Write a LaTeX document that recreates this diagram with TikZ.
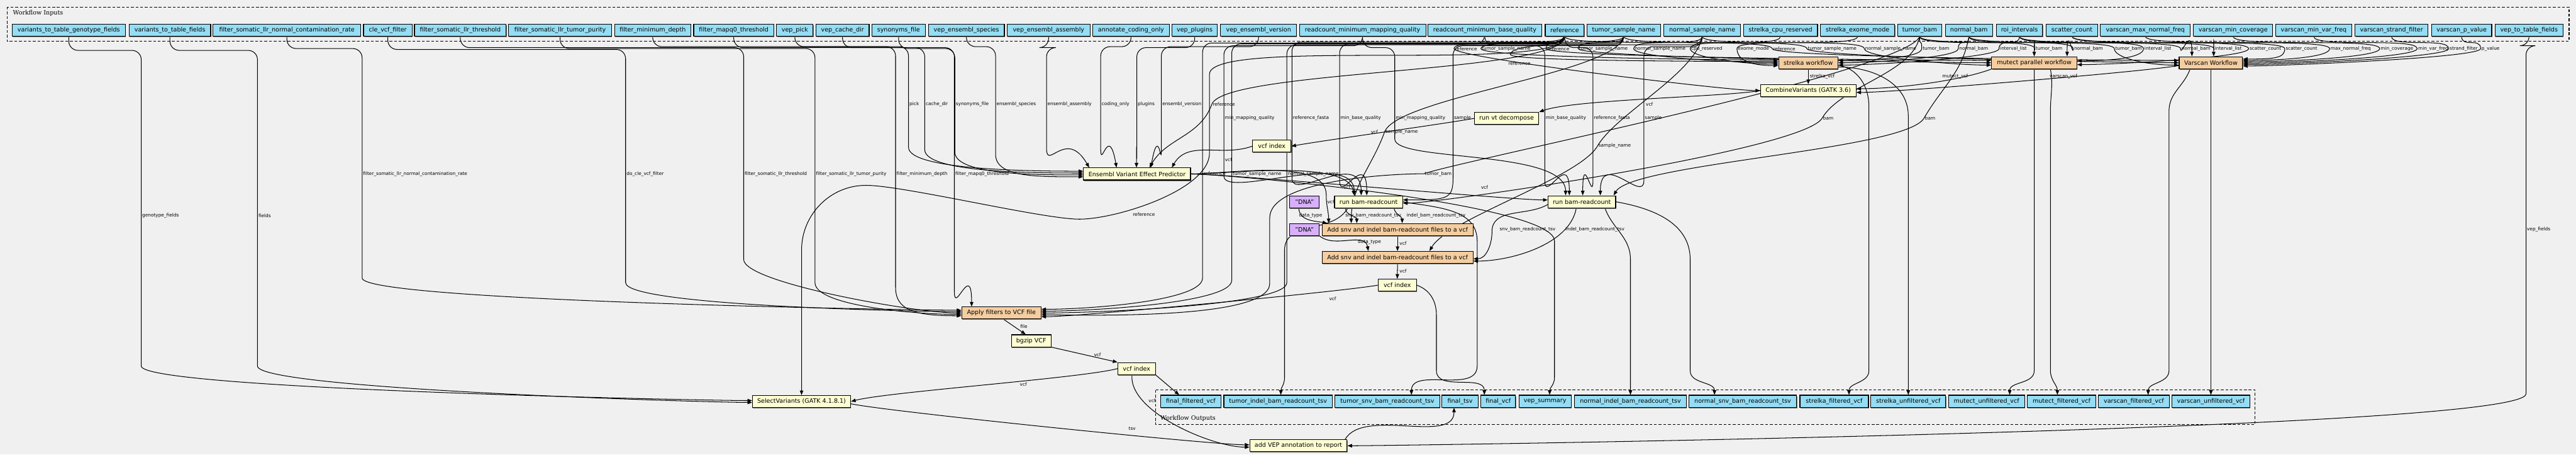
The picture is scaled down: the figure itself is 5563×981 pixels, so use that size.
\documentclass[tikz,border=0pt]{standalone}
\usepackage{fontspec}
\setmainfont{DejaVu Sans}
\newfontfamily\serifx{DejaVu Serif}
\usetikzlibrary{arrows.meta,shadows,calc}
\definecolor{cBg}{HTML}{F0F0F0}
\definecolor{cBlue}{HTML}{94DDF4}
\definecolor{cYel}{HTML}{FDFDD3}
\definecolor{cOra}{HTML}{F4CDA0}
\definecolor{cPur}{HTML}{D7B0F9}
\newcommand{\bxfont}{\fontsize{2.6}{3}\selectfont}
\newcommand{\lbfont}{\fontsize{2}{2.4}\selectfont}
\newcommand{\clfont}{\serifx\fontsize{2.6}{3}\selectfont}
\newcommand{\bx}[6]{\node[#1, minimum width={(#4-#3)*0.2}] (#2) at ({(#3+#4)/2},-#5) {#6};}
\newcommand{\te}[5]{\draw[edg] (#1.south) to[out=-90,in=90,distance=5pt] (#2,-105) node[lbl]{#3} to[out=-90,in=#5,out distance=4pt,in distance=14pt] (#4);}
\newcommand{\ve}[8]{\draw[edg] (#1.south) [rounded corners=4pt] -- ++(0,-#3) -| (#2,-#8) [sharp corners] node[lbl]{#7} -- (#2,-#4) to[out=-90,in=#6,out distance=10pt,in distance=20pt] (#5);}
\pgfdeclarelayer{back}
\pgfdeclarelayer{edges}
\pgfsetlayers{back,edges,main}
\tikzset{
  box/.style={draw, line width=0.3pt, minimum height=5.2pt, inner sep=0.4pt, font=\bxfont,
    general shadow={fill=black!55, shadow xshift=0.2pt, shadow yshift=-0.4pt}},
  inp/.style={box, fill=cBlue},
  stp/.style={box, fill=cYel},
  sub/.style={box, fill=cOra},
  cst/.style={box, fill=cPur},
  edg/.style={draw, line width=0.28pt, max distance=16pt, -{Triangle[length=2pt,width=1.5pt]}},
  lbl/.style={font=\lbfont, inner sep=0.3pt, anchor=west},
  clus/.style={draw, line width=0.28pt, dash pattern=on 1.2pt off 0.8pt},
}
\begin{document}
\begin{tikzpicture}[x=0.2pt,y=0.2pt]
\begin{pgfonlayer}{back}
\fill[cBg] (0,0) rectangle (5563,-981);
\draw[clus] (15,-15) rectangle (5548,-89);
\node[font=\clfont, anchor=west, inner sep=0pt] (inlab) at (27,-28) {Workflow Inputs};
\draw[clus] (2496,-842) rectangle (4870,-916);
\node[font=\clfont, anchor=west, inner sep=0pt] (outlab) at (2505,-903) {Workflow Outputs};
\end{pgfonlayer}
\useasboundingbox (0,0) rectangle (5563,-981);

% inputs
\bx{inp}{vtgf}{26}{271}{65}{variants\_to\_table\_genotype\_fields}
\bx{inp}{vtf}{279}{455}{65}{variants\_to\_table\_fields}
\bx{inp}{fcr}{460}{779}{65}{filter\_somatic\_llr\_normal\_contamination\_rate}
\bx{inp}{cle}{785}{890}{65}{cle\_vcf\_filter}
\bx{inp}{llrt}{895}{1093}{65}{filter\_somatic\_llr\_threshold}
\bx{inp}{llrp}{1098}{1321}{65}{filter\_somatic\_llr\_tumor\_purity}
\bx{inp}{fmd}{1327}{1492}{65}{filter\_minimum\_depth}
\bx{inp}{mapq}{1498}{1671}{65}{filter\_mapq0\_threshold}
\bx{inp}{pick}{1677}{1756}{65}{vep\_pick}
\bx{inp}{cache}{1762}{1877}{65}{vep\_cache\_dir}
\bx{inp}{syn}{1883}{1998}{65}{synonyms\_file}
\bx{inp}{spec}{2005}{2169}{65}{vep\_ensembl\_species}
\bx{inp}{asm}{2175}{2354}{65}{vep\_ensembl\_assembly}
\bx{inp}{coding}{2360}{2525}{65}{annotate\_coding\_only}
\bx{inp}{plug}{2531}{2629}{65}{vep\_plugins}
\bx{inp}{ver}{2636}{2800}{65}{vep\_ensembl\_version}
\bx{inp}{mmq}{2806}{3079}{65}{readcount\_minimum\_mapping\_quality}
\bx{inp}{mbq}{3084}{3329}{65}{readcount\_minimum\_base\_quality}
\bx{inp}{ref}{3337}{3421}{65}{reference}
\bx{inp}{tsn}{3427}{3586}{65}{tumor\_sample\_name}
\bx{inp}{nsn}{3593}{3759}{65}{normal\_sample\_name}
\bx{inp}{cpu}{3765}{3925}{65}{strelka\_cpu\_reserved}
\bx{inp}{exome}{3931}{4092}{65}{strelka\_exome\_mode}
\bx{inp}{tbam}{4098}{4193}{65}{tumor\_bam}
\bx{inp}{nbam}{4201}{4303}{65}{normal\_bam}
\bx{inp}{roi}{4311}{4411}{65}{roi\_intervals}
\bx{inp}{scat}{4419}{4530}{65}{scatter\_count}
\bx{inp}{vmnf}{4536}{4730}{65}{varscan\_max\_normal\_freq}
\bx{inp}{vmc}{4737}{4908}{65}{varscan\_min\_coverage}
\bx{inp}{vmvf}{4914}{5079}{65}{varscan\_min\_var\_freq}
\bx{inp}{vsf}{5086}{5243}{65}{varscan\_strand\_filter}
\bx{inp}{vpv}{5251}{5381}{65}{varscan\_p\_value}
\bx{inp}{vtt}{5388}{5535}{65}{vep\_to\_table\_fields}

% outputs
\bx{inp}{ffv}{2506}{2637}{866}{final\_filtered\_vcf}
\bx{inp}{tibt}{2643}{2877}{866}{tumor\_indel\_bam\_readcount\_tsv}
\bx{inp}{tsbt}{2883}{3109}{866}{tumor\_snv\_bam\_readcount\_tsv}
\bx{inp}{ftsv}{3114}{3192}{866}{final\_tsv}
\bx{inp}{fvcf}{3198}{3273}{866}{final\_vcf}
\bx{inp}{vsum}{3280}{3393}{866}{vep\_summary}
\bx{inp}{nibt}{3400}{3642}{866}{normal\_indel\_bam\_readcount\_tsv}
\bx{inp}{nsbt}{3647}{3880}{866}{normal\_snv\_bam\_readcount\_tsv}
\bx{inp}{sfv}{3887}{4035}{866}{strelka\_filtered\_vcf}
\bx{inp}{suv}{4040}{4202}{866}{strelka\_unfiltered\_vcf}
\bx{inp}{muv}{4208}{4372}{866}{mutect\_unfiltered\_vcf}
\bx{inp}{mfv}{4378}{4526}{866}{mutect\_filtered\_vcf}
\bx{inp}{vfv}{4531}{4685}{866}{varscan\_filtered\_vcf}
\bx{inp}{vuv}{4690}{4859}{866}{varscan\_unfiltered\_vcf}

% steps
\bx{sub}{strelka}{3841}{3969}{135.5}{strelka workflow}
\bx{sub}{mutect}{4301}{4485}{135.5}{mutect parallel workflow}
\bx{sub}{varscan}{4706}{4843}{135.5}{Varscan Workflow}
\bx{stp}{combine}{3802}{4008}{195.5}{CombineVariants (GATK 3.6)}
\bx{stp}{decomp}{3184}{3323}{255.5}{run vt decompose}
\bx{stp}{idxA}{2705}{2788}{315.5}{vcf index}
\bx{stp}{vep}{2340}{2571}{375.5}{Ensembl Variant Effect Predictor}
\bx{stp}{rbT}{2882}{3029}{435.5}{run bam-readcount}
\bx{stp}{rbN}{3343}{3489}{435.5}{run bam-readcount}
\bx{cst}{dnaA}{2785}{2849}{435.5}{"DNA"}
\bx{cst}{dnaB}{2785}{2849}{495.5}{"DNA"}
\bx{sub}{addT}{2855}{3181}{495.5}{Add snv and indel bam-readcount files to a vcf}
\bx{sub}{addN}{2855}{3181}{555.5}{Add snv and indel bam-readcount files to a vcf}
\bx{stp}{idxB}{2976}{3059}{615.5}{vcf index}
\bx{sub}{apply}{2077}{2248}{675.5}{Apply filters to VCF file}
\bx{stp}{bgzip}{2184}{2270}{735.5}{bgzip VCF}
\bx{stp}{idxC}{2414}{2495}{795.5}{vcf index}
\bx{stp}{selvar}{1625}{1837}{866.5}{SelectVariants (GATK 4.1.8.1)}
\bx{stp}{addvep}{2699}{2909}{962}{add VEP annotation to report}

\begin{pgfonlayer}{edges}
% inputs -> variant callers
\te{ref}{3140}{reference}{combine.west}{180}
\te{tsn}{3198}{tumor\_sample\_name}{$(strelka.west)+(0,6)$}{180}
\te{ref}{3339}{reference}{$(mutect.west)+(0,5)$}{180}
\te{tsn}{3408}{tumor\_sample\_name}{mutect.west}{180}
\te{nsn}{3528}{normal\_sample\_name}{strelka.west}{180}
\te{cpu}{3650}{cpu\_reserved}{$(strelka.west)+(0,-3)$}{180}
\te{exome}{3751}{exome\_mode}{$(strelka.west)+(0,-6)$}{180}
\te{ref}{3827}{reference}{$(varscan.west)+(0,5)$}{180}
\te{tsn}{3902}{tumor\_sample\_name}{varscan.west}{180}
\te{nsn}{4026}{normal\_sample\_name}{$(mutect.west)+(0,-5)$}{180}
\te{tbam}{4150}{tumor\_bam}{$(strelka.east)+(0,5)$}{0}
\te{nbam}{4229}{normal\_bam}{strelka.east}{0}
\te{roi}{4317}{interval\_list}{$(strelka.east)+(0,-5)$}{0}
\te{tbam}{4394}{tumor\_bam}{mutect.north}{90}
\te{nbam}{4477}{normal\_bam}{$(mutect.north)+(71,0)$}{90}
\te{tbam}{4566}{tumor\_bam}{$(varscan.west)+(0,-5)$}{180}
\te{roi}{4629}{interval\_list}{$(mutect.east)+(0,4)$}{0}
\te{nbam}{4709}{normal\_bam}{$(varscan.north)+(-41,0)$}{90}
\te{roi}{4781}{interval\_list}{$(varscan.north)+(6,0)$}{90}
\te{scat}{4856}{scatter\_count}{$(mutect.east)+(0,-4)$}{0}
\te{scat}{4934}{scatter\_count}{$(varscan.east)+(0,8)$}{0}
\te{vmnf}{5031}{max\_normal\_freq}{$(varscan.east)+(0,5)$}{0}
\te{vmc}{5139}{min\_coverage}{$(varscan.east)+(0,2)$}{0}
\te{vmvf}{5220}{min\_var\_freq}{$(varscan.east)+(0,-1)$}{0}
\te{vsf}{5288}{strand\_filter}{$(varscan.east)+(0,-4)$}{0}
\te{vpv}{5357}{p\_value}{$(varscan.east)+(0,-7)$}{0}
\draw[edg] (ref.south) to[out=-90,in=90,distance=5pt] (3262,-118) to[out=-90,in=180,out distance=3pt,in distance=14pt] ($(strelka.west)+(0,3)$);
\node[lbl] (lrefs) at (3255,-137) {reference};

% callers -> combine, outputs
\draw[edg] (strelka.south) -- (combine.north);
\node[lbl] (lsv) at (3906,-165) {strelka\_vcf};
\draw[edg] (mutect.south west) to[out=-160,in=0] ($(combine.east)+(0,4)$);
\node[lbl] (lmv) at (4192,-165) {mutect\_vcf};
\draw[edg] ($(varscan.west)+(0,-6)$) to[out=190,in=0] ($(combine.east)+(0,-4)$);
\node[lbl] (lvv) at (4424,-165) {varscan\_vcf};
\draw[edg] ($(strelka.east)+(0,-5)$) to[out=-10,in=90] (4036,-230) -- (4036,-800) to[out=-90,in=90] ($(sfv.north)+(32,0)$);
\draw[edg] ($(strelka.east)+(0,-9)$) to[out=0,in=90] (4121,-250) -- (suv.north);
\draw[edg] (mutect.south) -- (4393,-800) to[out=-90,in=90] ($(muv.north)+(50,0)$);
\draw[edg] ($(mutect.south)+(35,0)$) to[out=-80,in=90] (4428,-240) -- (4428,-800) to[out=-90,in=90] ($(mfv.north)+(-9,0)$);
\draw[edg] ($(varscan.south)+(-45,0)$) to[out=-110,in=90] (4684,-240) -- (4684,-800) to[out=-90,in=90] ($(vfv.north)+(31,0)$);
\draw[edg] (varscan.south) -- (vuv.north);

% combine -> decompose -> index -> VEP
\draw[edg] (combine.west) to[out=190,in=20] (decomp.north east);
\node[lbl] (lc1) at (3552,-225) {vcf};
\draw[edg] (decomp.west) to[out=190,in=10] (idxA.east);
\node[lbl] (lc2) at (2958,-285) {vcf};
\draw[edg] (idxA.west) to[out=200,in=60] ($(vep.north)+(75,0)$);
\node[lbl] (lc3) at (2643,-344) {vcf};

% VEP inputs
\ve{pick}{1962}{22}{318}{$(vep.west)+(0,6)$}{180}{pick}{225}
\ve{cache}{1997}{24}{323}{$(vep.west)+(0,2)$}{180}{cache\_dir}{225}
\ve{syn}{2062}{26}{328}{$(vep.west)+(0,-2)$}{180}{synonyms\_file}{225}
\ve{spec}{2150}{22}{333}{$(vep.west)+(0,-6)$}{180}{ensembl\_species}{225}
\ve{asm}{2260}{24}{320}{$(vep.north west)+(13,0)$}{120}{ensembl\_assembly}{225}
\ve{coding}{2377}{22}{320}{$(vep.north west)+(72,0)$}{100}{coding\_only}{225}
\ve{plug}{2455}{24}{330}{$(vep.north west)+(115,0)$}{90}{plugins}{225}
\ve{ver}{2508}{22}{320}{$(vep.north west)+(146,0)$}{80}{ensembl\_version}{225}
\draw[edg] (ref.south) to[out=-90,in=70] (2617,-225) node[lbl]{reference} to[out=-110,in=60] ($(vep.north west)+(143,0)$);

% filter inputs
\ve{fcr}{782}{26}{600}{$(apply.west)+(0,6)$}{180}{filter\_somatic\_llr\_normal\_contamination\_rate}{375}
\ve{cle}{1351}{28}{610}{$(apply.west)+(0,3)$}{180}{do\_cle\_vcf\_filter}{375}
\ve{llrt}{1606}{24}{560}{apply.west}{180}{filter\_somatic\_llr\_threshold}{375}
\ve{llrp}{1760}{26}{610}{$(apply.west)+(0,-3)$}{180}{filter\_somatic\_llr\_tumor\_purity}{375}
\ve{fmd}{1934}{22}{620}{$(apply.west)+(0,-6)$}{180}{filter\_minimum\_depth}{375}
\ve{mapq}{2061}{24}{630}{$(apply.north west)+(22,0)$}{90}{filter\_mapq0\_threshold}{375}
\ve{ref}{2597}{14}{600}{$(apply.east)+(0,8)$}{0}{reference}{375}
\ve{tsn}{2660}{16}{605}{$(apply.east)+(0,4)$}{0}{tumor\_sample\_name}{375}
\ve{nsn}{2779}{18}{610}{apply.east}{0}{normal\_sample\_name}{375}
\draw[edg] (tbam.south) to[out=-110,in=20] (3075,-375) node[lbl]{tumor\_bam} to[out=180,in=90] (2742,-470) -- (2742,-612) to[out=-90,in=0] ($(apply.east)+(0,-4)$);

% readcount tumor
\ve{mmq}{2643}{20}{380}{$(rbT.north)+(-31,0)$}{90}{min\_mapping\_quality}{255}
\ve{ref}{2790}{12}{385}{$(rbT.north)+(-16,0)$}{90}{reference\_fasta}{255}
\ve{mbq}{2893}{16}{390}{$(rbT.north)+(-4,0)$}{90}{min\_base\_quality}{255}
\ve{tsn}{3138}{20}{380}{$(rbT.east)+(0,4)$}{0}{sample}{255}
\draw[edg] (tbam.south) to[out=-100,in=60] (3935,-255) node[lbl]{bam} to[out=-120,in=0] ($(rbT.east)+(0,-3)$);
\draw[edg] (vep.east) to[out=0,in=100] ($(rbT.north)+(-31,0)$);
\node[lbl] (lv1) at (2899,-405) {vcf};

% readcount normal
\ve{mmq}{3012}{24}{300}{$(rbN.north)+(-35,0)$}{90}{min\_mapping\_quality}{255}
\ve{mbq}{3336}{20}{390}{$(rbN.north)+(-27,0)$}{90}{min\_base\_quality}{255}
\ve{ref}{3440}{24}{390}{$(rbN.north)+(2,0)$}{90}{reference\_fasta}{255}
\ve{nsn}{3550}{22}{390}{$(rbN.north)+(40,0)$}{90}{sample}{255}
\draw[edg] (nbam.south) to[out=-100,in=60] (4155,-255) node[lbl]{bam} to[out=-120,in=60] ($(rbN.north east)+(-5,0)$);
\draw[edg] (vep.east) to[out=0,in=180] ($(rbN.west)+(0,4)$);
\node[lbl] (lv2) at (3196,-405) {vcf};

% VEP -> add readcounts, summary
\draw[edg] (vep.east) to[out=0,in=90] (2864,-420) to[out=-90,in=90] ($(addT.north west)+(15,0)$);
\node[lbl] (lv3) at (2864,-435) {vcf};
\draw[edg] (vep.east) to[out=0,in=90] (3357,-520) -- (3357,-815) to[out=-90,in=90] ($(vsum.north)+(10,0)$);

% readcount outputs
\draw[edg] ($(rbT.south)+(-50,0)$) to[out=-90,in=90] ($(addT.north)+(-88,0)$);
\node[lbl] (ls1) at (2903,-465) {snv\_bam\_readcount\_tsv};
\draw[edg] ($(rbT.south)+(55,0)$) to[out=-80,in=90] ($(addT.north)+(10,0)$);
\node[lbl] (li1) at (3035,-465) {indel\_bam\_readcount\_tsv};
\draw[edg] ($(rbT.south)+(-45,0)$) to[out=-120,in=90] (2774,-540) -- (2774,-815) to[out=-90,in=90] ($(tibt.north)+(6,0)$);
\draw[edg] (rbT.east) to[out=-10,in=90] (3190,-520) -- (3190,-790) to[out=-90,in=90] ($(tsbt.north)+(52,0)$);
\draw[edg] ($(rbN.west)+(0,-6)$) to[out=-150,in=90] (3222,-500) to[out=-90,in=0] ($(addN.east)+(0,-3)$);
\node[lbl] (ls2) at (3236,-495) {snv\_bam\_readcount\_tsv};
\draw[edg] ($(rbN.south)+(-12,0)$) to[out=-100,in=0] ($(addN.east)+(0,-8)$);
\node[lbl] (li2) at (3378,-495) {indel\_bam\_readcount\_tsv};
\draw[edg] ($(rbN.south)+(50,0)$) to[out=-70,in=90] (3521,-560) -- (nibt.north);
\draw[edg] (rbN.east) to[out=-10,in=90] (3650,-560) -- (3650,-800) to[out=-90,in=90] ($(nsbt.north)+(-61,0)$);

% add readcount chain
\draw[edg] ($(dnaA.south)+(-12,0)$) to[out=-90,in=170] ($(addT.north west)+(12,0)$);
\node[lbl] (ld1) at (2803,-465) {data\_type};
\draw[edg] (dnaB.south east) to[out=-40,in=100] ($(addN.north)+(-63,0)$);
\node[lbl] (ld2) at (2930,-523) {data\_type};
\draw[edg] (tsn.south) to[out=-100,in=70] (2990,-285) node[lbl]{sample\_name} to[out=-110,in=90] ($(addT.north)+(-100,0)$);
\draw[edg] (nsn.south) to[out=-100,in=60] (3450,-315) node[lbl]{sample\_name} to[out=-120,in=60] ($(addN.north)+(69,0)$);
\draw[edg] (addT.south) -- (addN.north);
\node[lbl] (lv4) at (3020,-525) {vcf};
\draw[edg] (addN.south) -- (idxB.north);
\node[lbl] (lv5) at (3020,-585) {vcf};
\draw[edg] (idxB.west) to[out=190,in=0] ($(apply.east)+(0,-8)$);
\node[lbl] (lv6) at (2868,-645) {vcf};
\draw[edg] (idxB.east) to[out=-20,in=90] (3102,-680) -- (3102,-800) to[out=-90,in=90] ($(fvcf.north)+(-30,0)$);

% filter chain
\draw[edg] ($(apply.south)+(5,0)$) -- ($(bgzip.north)+(-12,0)$);
\node[lbl] (lf) at (2201,-705) {file};
\draw[edg] (bgzip.south east) -- (idxC.north west);
\node[lbl] (lv7) at (2360,-765) {vcf};
\draw[edg] (idxC.south east) -- ($(ffv.north)+(-25,0)$);
\draw[edg] (idxC.west) to[out=195,in=15] (selvar.east);
\node[lbl] (lv8) at (2200,-830) {vcf};
\draw[edg] ($(idxC.south)+(-10,0)$) to[out=-95,in=180] ($(addvep.west)+(0,-3)$);
\node[lbl] (lv9) at (2478,-865) {vcf};
\draw[edg] ($(selvar.east)+(0,-5)$) to[out=-12,in=180] ($(addvep.west)+(0,2)$);
\node[lbl] (lt) at (2435,-925) {tsv};
\ve{vtgf}{305}{30}{790}{$(selvar.west)+(0,2)$}{180}{genotype\_fields}{465}
\ve{vtf}{556}{30}{790}{$(selvar.west)+(0,-2)$}{180}{fields}{465}
\draw[edg] (ref.south) to[out=-90,in=90] (2612,-160) -- (2612,-330) to[out=-90,in=0] (2331,-473) to[out=180,in=0] (1870,-400) to[out=180,in=90] (1731,-540) -- (selvar.north);
\node[lbl] (lr2) at (2444,-463) {reference};
\draw[edg] (vtt.south) [rounded corners=4pt] -- ++(0,-20) -| (5455,-495) [sharp corners] node[lbl]{vep\_fields} -- (5455,-850) to[out=-90,in=0] (addvep.east);
\draw[edg] ($(addvep.north east)+(-5,0)$) to[out=60,in=-90] ($(ftsv.south)+(-13,0)$);
\end{pgfonlayer}
\end{tikzpicture}
\end{document}
